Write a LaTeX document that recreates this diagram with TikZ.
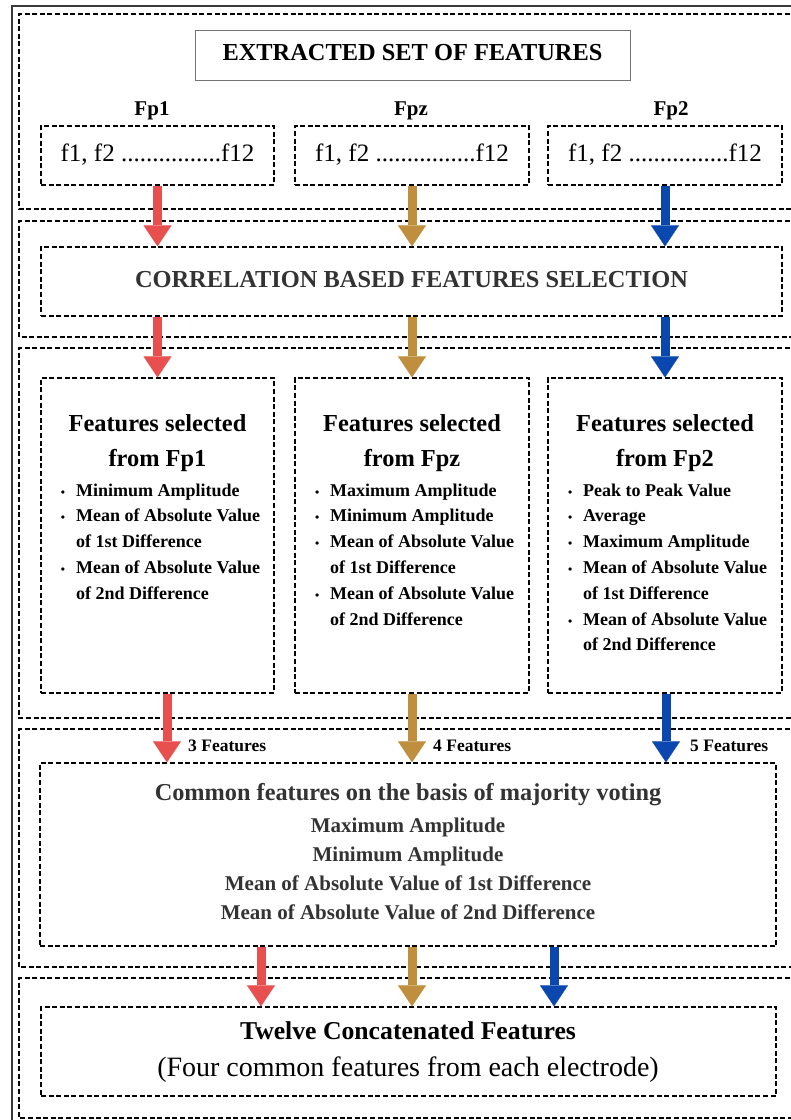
\documentclass[tikz,border=0pt]{standalone}
\usepackage{fontspec}
\setmainfont{Liberation Serif}
\usetikzlibrary{arrows.meta}
\definecolor{cred}{HTML}{E85050}
\definecolor{cgold}{HTML}{C08F3E}
\definecolor{cblue}{HTML}{0A48B0}
\definecolor{dgray}{HTML}{333333}
\definecolor{framegray}{HTML}{3A3A3A}
\newcommand\fs[2]{\fontsize{#1}{#2}\selectfont}
\newcommand\bul{\leavevmode\llap{{\fontsize{12}{25.8}\selectfont\textbullet}\hspace{11pt}}}
\begin{document}
\begin{tikzpicture}[x=1pt,y=-1pt,
  dashline/.style={draw=black, line width=1.3pt, dash pattern=on 5pt off 2.6pt},
  sect/.style={dashline},
  dbox/.style={dashline, inner sep=0pt, minimum width=#1},
  fat/.style={line width=9pt, -{Triangle[width=28pt,length=21pt,line width=0.01pt]}},
  lbl/.style={inner sep=0pt, anchor=base},
  bigbold/.style={lbl, font=\fs{24.4}{28}\bfseries},
  ftext/.style={lbl, font=\fs{25}{28}},
  eleclbl/.style={lbl, font=\fs{21}{24}\bfseries},
  cnt/.style={inner sep=0pt, anchor=base west, font=\fs{17.5}{20}\bfseries},
]
\useasboundingbox (0,0) rectangle (791,1120);
\clip (0,0) rectangle (791,1120);
\fill[white] (0,0) rectangle (791,1120);

% outer frame
\draw[framegray, line width=2pt] (12,1140) -- (12,6) -- (820,6);

% sections
\draw[sect] (820,14) -- (19,14) -- (19,209) -- (820,209);
\draw[sect] (820,221) -- (19,221) -- (19,337) -- (820,337);
\draw[sect] (820,348) -- (19,348) -- (19,718) -- (820,718);
\draw[sect] (820,729) -- (19,729) -- (19,967) -- (820,967);
\draw[sect] (820,978) -- (19,978) -- (19,1118) -- (820,1118);

% x guides
\coordinate (xr3) at (167,0);
\coordinate (xb3) at (666,0);
\coordinate (xr4) at (261,0);
\coordinate (xg4) at (412,0);
\coordinate (xb4) at (554,0);

% title
\node[draw=black!55, line width=1pt, inner sep=0pt, minimum width=435pt, minimum height=50pt] (title) at (412.5,55) {};
\node[bigbold] (titletxt) at (412.5,60) {EXTRACTED SET OF FEATURES};

% electrode labels
\node[eleclbl] (l1) at (152,115) {Fp1};
\node[eleclbl] (l2) at (411,115) {Fpz};
\node[eleclbl] (l3) at (671,115) {Fp2};

% row 1 boxes
\node[dbox=233pt, minimum height=59pt] (r1a) at (157.5,155.5) {};
\node[dbox=234pt, minimum height=59pt] (r1b) at (412,155.5) {};
\node[dbox=234pt, minimum height=59pt] (r1c) at (665,155.5) {};
\node[ftext] (t1a) at (157.5,161) {f1, f2 ................f12};
\node[ftext] (t1b) at (412,161) {f1, f2 ................f12};
\node[ftext] (t1c) at (665,161) {f1, f2 ................f12};

% correlation box
\node[dbox=741pt, minimum height=69pt] (corr) at (411.5,281.5) {};
\node[bigbold, text=dgray] (corrtxt) at (411.5,287) {CORRELATION BASED FEATURES SELECTION};

% section 3 boxes
\node[dbox=233pt, minimum height=315pt] (s3a) at (157.5,535.5) {};
\node[dbox=234pt, minimum height=315pt] (s3b) at (412,535.5) {};
\node[dbox=234pt, minimum height=315pt] (s3c) at (665,535.5) {};

\node[lbl, font=\fs{24.4}{35}\bfseries] (h3a) at (157.5,431) {\parbox[t]{220pt}{\centering Features selected\\from Fp1}};
\node[lbl, font=\fs{24.4}{35}\bfseries] (h3b) at (412,431) {\parbox[t]{220pt}{\centering Features selected\\from Fpz}};
\node[lbl, font=\fs{24.4}{35}\bfseries] (h3c) at (665,431) {\parbox[t]{220pt}{\centering Features selected\\from Fp2}};

\node[inner sep=0pt, anchor=base west, font=\fs{18}{25.8}\bfseries] (list3a) at (76,496)
  {\parbox[t]{200pt}{\raggedright
   \bul Minimum Amplitude\\
   \bul Mean of Absolute Value\\
   of 1st Difference\\
   \bul Mean of Absolute Value\\
   of 2nd Difference}};
\node[inner sep=0pt, anchor=base west, font=\fs{18}{25.8}\bfseries] (list3b) at (330,496)
  {\parbox[t]{200pt}{\raggedright
   \bul Maximum Amplitude\\
   \bul Minimum Amplitude\\
   \bul Mean of Absolute Value\\
   of 1st Difference\\
   \bul Mean of Absolute Value\\
   of 2nd Difference}};
\node[inner sep=0pt, anchor=base west, font=\fs{18}{25.8}\bfseries] (list3c) at (583,496)
  {\parbox[t]{200pt}{\raggedright
   \bul Peak to Peak Value\\
   \bul Average\\
   \bul Maximum Amplitude\\
   \bul Mean of Absolute Value\\
   of 1st Difference\\
   \bul Mean of Absolute Value\\
   of 2nd Difference}};

% feature count labels
\node[cnt] (n3) at (188,751) {3 Features};
\node[cnt] (n4) at (433,751) {4 Features};
\node[cnt] (n5) at (690,751) {5 Features};

% common box
\node[dbox=736pt, minimum height=183pt] (common) at (408,854.5) {};
\node[lbl, font=\fs{24.3}{28}\bfseries, text=dgray] (comtitle) at (408,800) {Common features on the basis of majority voting};
\node[lbl, font=\fs{21}{29}\bfseries, text=dgray] (comlist) at (408,832)
  {\parbox[t]{500pt}{\centering
   Maximum Amplitude\\
   Minimum Amplitude\\
   Mean of Absolute Value of 1st Difference\\
   Mean of Absolute Value of 2nd Difference}};

% final box
\node[dbox=735pt, minimum height=89pt] (final) at (408.5,1051.5) {};
\node[lbl, font=\fs{25.7}{30}\bfseries] (fin1) at (408,1039) {Twelve Concatenated Features};
\node[lbl, font=\fs{28}{32}] (fin2) at (408,1076) {(Four common features from each electrode)};

% arrows row1 -> corr
\draw[fat, cred]  (r1a.south) -- (r1a.south |- corr.north);
\draw[fat, cgold] (r1b.south) -- (r1b.south |- corr.north);
\draw[fat, cblue] (r1c.south) -- (r1c.south |- corr.north);
% corr -> section 3
\draw[fat, cred]  (corr.south -| s3a.north) -- (s3a.north);
\draw[fat, cgold] (corr.south -| s3b.north) -- (s3b.north);
\draw[fat, cblue] (corr.south -| s3c.north) -- (s3c.north);
% section 3 -> common
\draw[fat, cred]  (s3a.south -| xr3) -- (common.north -| xr3);
\draw[fat, cgold] (s3b.south) -- (s3b.south |- common.north);
\draw[fat, cblue] (s3c.south -| xb3) -- (common.north -| xb3);
% common -> final
\draw[fat, cred]  (common.south -| xr4) -- (final.north -| xr4);
\draw[fat, cgold] (common.south -| xg4) -- (final.north -| xg4);
\draw[fat, cblue] (common.south -| xb4) -- (final.north -| xb4);
\end{tikzpicture}
\end{document}
